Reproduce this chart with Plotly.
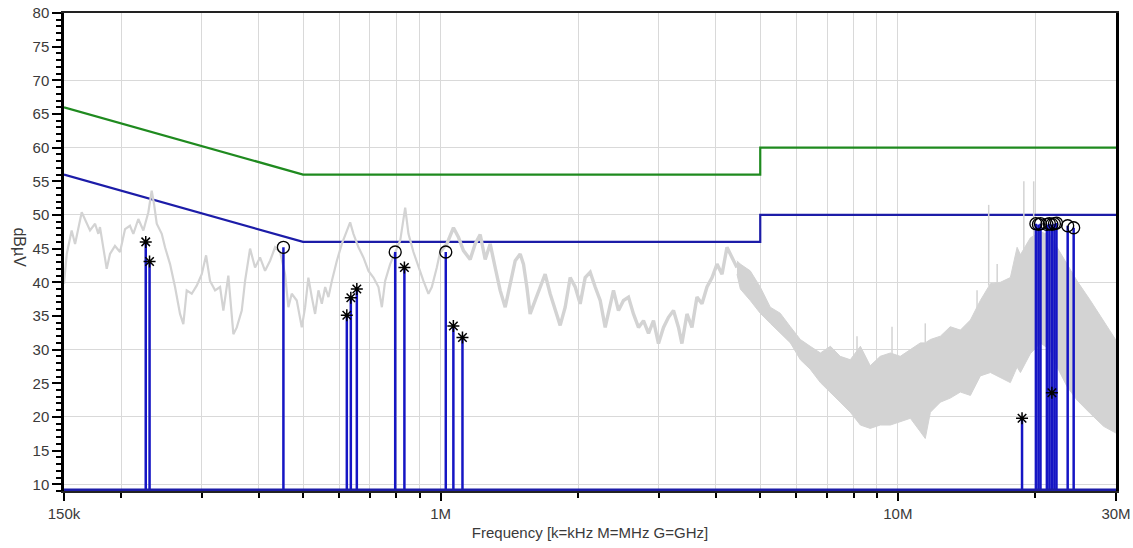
import plotly.graph_objects as go

# ---------------- data (frequency in MHz, level in dBuV) ----------------
spec_freq = [
    0.1500, 0.1521, 0.1559, 0.1586, 0.1640, 0.1667, 0.1710, 0.1754, 0.1783, 0.1798,
    0.1828, 0.1860, 0.1891, 0.1939, 0.1989, 0.2040, 0.2091, 0.2127, 0.2181, 0.2237,
    0.2294, 0.2333, 0.2361, 0.2393, 0.2454, 0.2495, 0.2559, 0.2624, 0.2691, 0.2736,
    0.2783, 0.2854, 0.2927, 0.3002, 0.3068, 0.3130, 0.3210, 0.3292, 0.3347, 0.3432,
    0.3520, 0.3581, 0.3672, 0.3734, 0.3829,
    0.3926, 0.4026, 0.4129, 0.4235, 0.4343, 0.4454, 0.4567, 0.4644, 0.4723, 0.4844,
    0.4968, 0.5052, 0.5136, 0.5225, 0.5313, 0.5403, 0.5496, 0.5589, 0.5682, 0.5780,
    0.5928, 0.6078, 0.6233, 0.6338, 0.6444, 0.6609, 0.6777, 0.6951, 0.7128, 0.7310,
    0.7436, 0.7560, 0.7753, 0.7953, 0.8156, 0.8363, 0.8502, 0.8718, 0.8941, 0.9168,
    0.9402, 0.9564, 0.9807,
    0.9972, 1.0316, 1.0665, 1.0937, 1.1215, 1.1601, 1.1897, 1.2201, 1.2512, 1.2831,
    1.3158, 1.3493, 1.3839, 1.4192, 1.4555, 1.4924, 1.5174, 1.5435, 1.5691, 1.6095,
    1.6503, 1.6923, 1.7356, 1.7800, 1.8254, 1.8721, 1.9199, 1.9690, 2.0191, 2.0704,
    2.1234, 2.1775, 2.2331, 2.2900, 2.3479, 2.3877, 2.4484, 2.5111, 2.5751, 2.6405,
    2.7082, 2.7771, 2.8483, 2.9207, 2.9950, 3.0716, 3.1496, 3.2305, 3.3129, 3.3700,
    3.4573, 3.5450, 3.6355, 3.7290, 3.8238, 3.9223, 4.0220, 4.1248, 4.2287, 4.3359,
    4.4473,
]
spec_level = [
    39.8, 44.2, 47.7, 45.7, 50.4, 49.4, 47.7, 48.7, 47.2, 48.2,
    45.2, 42.0, 44.2, 45.4, 44.5, 47.9, 48.4, 47.2, 49.4, 47.7,
    50.4, 53.6, 51.6, 48.7, 47.2, 45.2, 42.7, 39.3, 35.3, 33.8,
    38.8, 38.3, 39.5, 41.2, 44.0, 40.2, 38.8, 39.3, 35.8, 41.0,
    32.3, 33.3, 35.8, 40.2, 45.0,
    42.2, 43.7, 41.7, 43.2, 45.2, 44.5, 41.2, 36.3, 38.3, 37.3,
    33.3, 36.3, 40.7, 37.8, 35.3, 38.8, 36.8, 39.3, 37.8, 40.2,
    43.2, 45.7, 47.7, 48.9, 47.2, 45.2, 43.7, 41.7, 40.7, 39.3,
    36.3, 40.2, 42.7, 44.5, 46.2, 51.1, 47.2, 44.5, 42.2, 40.2,
    38.3, 39.3, 42.2,
    44.5, 45.7, 48.1, 46.7, 44.7, 43.4, 45.7, 47.1, 43.4, 45.7,
    42.2, 38.8, 36.3, 39.8, 43.2, 44.2, 42.7, 39.3, 35.3, 37.3,
    39.3, 41.2, 38.3, 35.8, 33.6, 36.3, 40.7, 39.3, 36.8, 40.7,
    41.5, 39.3, 37.3, 33.3, 36.8, 38.8, 35.8, 37.3, 37.8, 35.3,
    33.3, 34.3, 32.4, 34.3, 30.9, 33.3, 34.8, 35.8, 33.3, 30.9,
    35.3, 33.3, 37.8, 36.8, 39.3, 40.7, 42.7, 41.2, 45.2, 43.7,
    42.2,
]

# dense noise band above ~4.5 MHz
band_freq = [4.447, 4.523, 4.755, 5.00, 5.26, 5.53, 5.82, 6.12, 6.43, 6.77, 7.12,
             7.48, 7.87, 8.28, 8.70, 9.15, 9.63, 10.12, 10.65, 11.20, 11.48,
             11.78, 12.39, 13.02, 13.70, 14.41, 15.15, 15.94, 16.76, 17.62, 18.23,
             18.54, 19.49, 20.5, 21.5, 22.31, 23.45, 24.66, 26.37, 28.20, 30.0]
band_upper = [43.2, 42.7, 41.7, 39.3, 36.3, 35.4, 33.4, 31.5, 30.5, 29.5, 30.5,
              29.0, 28.5, 30.5, 27.6, 29.0, 29.5, 29.0, 30.0, 31.0, 31.0,
              31.5, 32.0, 33.4, 32.9, 34.4, 37.3, 39.8, 40.0, 40.7, 45.2,
              44.1, 46.6, 47.5, 47.0, 45.2, 42.7, 40.2, 37.3, 34.3, 31.4]
band_lower = [41.2, 39.0, 37.3, 35.4, 33.9, 32.4, 31.0, 28.5, 27.1, 25.1, 23.7,
              22.2, 20.7, 18.8, 18.3, 18.8, 18.8, 19.3, 19.8, 17.8, 16.8,
              20.7, 22.2, 22.8, 23.7, 23.2, 26.1, 26.6, 25.8, 25.1, 27.4,
              26.6, 29.4, 31.0, 30.0, 27.4, 24.5, 22.5, 20.5, 18.6, 17.6]

# isolated spikes rising out of the band
spike_freq = [8.14, 9.71, 11.48, 14.90, 15.80, 16.49, 18.86, 19.82]
spike_base = [29.0, 29.3, 31.0, 35.5, 39.5, 39.5, 44.5, 46.6]
spike_top = [32.0, 33.4, 33.9, 38.8, 51.5, 42.7, 55.0, 55.0]

# limit lines
limit_freq = [0.15, 0.5, 5.0, 5.0, 30.0]
qp_limit = [66, 56, 56, 60, 60]
avg_limit = [56, 46, 46, 50, 50]

# final measurements
peak_freq = [0.4529, 0.7953, 1.026, 20.04, 20.30, 20.51, 21.18, 21.45, 21.72,
             22.00, 22.23, 23.52, 24.24]
peak_level = [45.2, 44.5, 44.5, 48.7, 48.6, 48.7, 48.6, 48.7, 48.6,
              48.7, 48.8, 48.4, 48.1]
qp_freq = [0.2264, 0.2308, 0.6233, 0.6360, 0.6555, 0.8330, 1.066, 1.116, 18.69, 21.72]
qp_level = [46.0, 43.1, 35.1, 37.7, 39.0, 42.2, 33.5, 31.8, 19.8, 23.6]

BASE_LEVEL = 9.15
Y_RANGE = [9.0, 80.0]
F_MIN, F_MAX = 0.15, 30.0

x_tickvals = [0.15, 1, 10, 30]
x_ticktext = ["150k", "1M", "10M", "30M"]
x_minor = [0.2, 0.3, 0.4, 0.5, 0.6, 0.7, 0.8, 0.9, 2, 3, 4, 5, 6, 7, 8, 9, 20]
y_tickvals = list(range(10, 81, 5))
y_gridvals = list(range(10, 71, 10))

GRAY = "rgb(211,211,211)"
BLUE_LIM = "#1c1ca8"
BLUE_STEM = "#1515c4"
GREEN = "#1f8a1f"
FONT = "Liberation Sans, Arial, sans-serif"
TXT = "#3a3a3a"

fig = go.Figure()

# limits
fig.add_trace(go.Scatter(x=limit_freq, y=qp_limit, mode="lines",
                         line=dict(color=GREEN, width=2.2), hoverinfo="skip"))
fig.add_trace(go.Scatter(x=limit_freq, y=avg_limit, mode="lines",
                         line=dict(color=BLUE_LIM, width=2.2), hoverinfo="skip"))

# spectrum: finer below 1 MHz, denser/thicker noise above
split = next(i for i, f in enumerate(spec_freq) if f >= 0.99)
fig.add_trace(go.Scatter(x=spec_freq[:split + 1], y=spec_level[:split + 1], mode="lines",
                         line=dict(color=GRAY, width=2.2), hoverinfo="skip"))
fig.add_trace(go.Scatter(x=spec_freq[split:], y=spec_level[split:], mode="lines",
                         line=dict(color=GRAY, width=3.4), hoverinfo="skip"))
fig.add_trace(go.Scatter(x=band_freq, y=band_lower, mode="lines",
                         line=dict(color=GRAY, width=1), hoverinfo="skip"))
fig.add_trace(go.Scatter(x=band_freq, y=band_upper, mode="lines", fill="tonexty",
                         fillcolor=GRAY, line=dict(color=GRAY, width=1), hoverinfo="skip"))
sx, sy = [], []
for f, b, t in zip(spike_freq, spike_base, spike_top):
    sx += [f, f, None]
    sy += [b, t, None]
fig.add_trace(go.Scatter(x=sx, y=sy, mode="lines", line=dict(color=GRAY, width=1.5),
                         hoverinfo="skip"))

# stems
stx, sty = [], []
for f, v in list(zip(peak_freq, peak_level)) + list(zip(qp_freq, qp_level)):
    stx += [f, f, None]
    sty += [BASE_LEVEL, v, None]
fig.add_trace(go.Scatter(x=stx, y=sty, mode="lines", line=dict(color=BLUE_STEM, width=2.5),
                         hoverinfo="skip"))
fig.add_trace(go.Scatter(x=[F_MIN, F_MAX], y=[BASE_LEVEL, BASE_LEVEL], mode="lines",
                         line=dict(color=BLUE_LIM, width=3), hoverinfo="skip"))

# markers
fig.add_trace(go.Scatter(x=peak_freq, y=peak_level, mode="markers",
                         marker=dict(symbol="circle-open", size=12, color="black",
                                     line=dict(width=1.3, color="black")), hoverinfo="skip"))
fig.add_trace(go.Scatter(x=qp_freq, y=qp_level, mode="markers",
                         marker=dict(symbol="asterisk-open", size=10, color="black",
                                     line=dict(width=1.5, color="black")), hoverinfo="skip"))

# grid-only overlay axis (every 10 dB)
fig.add_trace(go.Scatter(x=[], y=[], yaxis="y2", hoverinfo="skip"))

fig.update_layout(
    width=1133, height=548,
    margin=dict(l=64, r=17, t=13, b=57, autoexpand=False),
    paper_bgcolor="white", plot_bgcolor="white",
    showlegend=False,
    font=dict(family=FONT, size=15, color=TXT),
    xaxis=dict(
        type="log", range=[-0.82391, 1.47712], automargin=False,
        tickvals=x_tickvals, ticktext=x_ticktext,
        ticks="outside", ticklen=8, tickwidth=1.5, tickcolor="black",
        showgrid=True, gridcolor="#d9d9d9", gridwidth=1,
        minor=dict(tickvals=x_minor, ticks="outside", ticklen=5, tickwidth=1.5,
                   tickcolor="black", showgrid=True, gridcolor="#d9d9d9", gridwidth=1),
        showline=True, linecolor="#222222", linewidth=2, mirror=True,
        zeroline=False,
        title=dict(text="Frequency [k=kHz M=MHz G=GHz]", standoff=6,
                   font=dict(family=FONT, size=15, color=TXT)),
        tickfont=dict(family=FONT, size=15, color=TXT),
    ),
    yaxis=dict(
        range=Y_RANGE, tickvals=y_tickvals, automargin=False,
        ticks="outside", ticklen=9, tickwidth=2, tickcolor="black",
        showgrid=False,
        minor=dict(dtick=1, ticks="outside", ticklen=5, tickwidth=1.5, tickcolor="black",
                   showgrid=False),
        showline=True, linecolor="black", linewidth=2.5, mirror=True,
        zeroline=False,
        tickfont=dict(family=FONT, size=15, color=TXT),
    ),
    yaxis2=dict(
        overlaying="y", range=Y_RANGE, tickvals=y_gridvals, automargin=False,
        showgrid=True, gridcolor="#d9d9d9", gridwidth=1,
        showticklabels=False, ticks="", showline=False, zeroline=False,
    ),
    annotations=[dict(
        text="dBµV", textangle=90, xref="paper", yref="paper",
        x=-0.042, y=0.51, xanchor="center", yanchor="middle", showarrow=False,
        font=dict(family=FONT, size=16, color=TXT),
    )],
)

fig.write_html("out.html", config={"displayModeBar": False},
               post_script="document.body.style.margin='0px';")
